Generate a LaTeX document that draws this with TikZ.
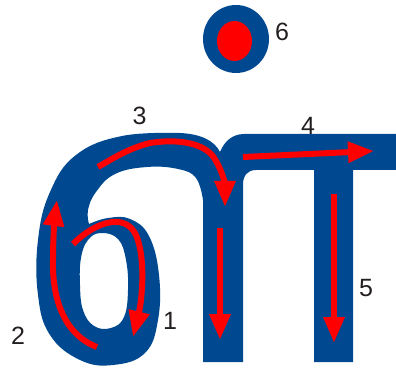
\documentclass[tikz,border=0pt]{standalone}
\usepackage{fontspec}
\setmainfont{Liberation Sans}
\usetikzlibrary{arrows.meta}
\definecolor{glyphblue}{RGB}{0,73,144}
\definecolor{lblgray}{RGB}{35,31,32}
\begin{document}
\begin{tikzpicture}[x=1pt,y=-1pt,
  stroke/.style={draw=red,line width=6pt,-{Triangle[length=26pt,width=20pt]}},
  lbl/.style={inner sep=0pt,text=lblgray,font=\fontsize{25}{25}\selectfont}]
\useasboundingbox (0,0) rectangle (396,371);
% glyph
\fill[glyphblue,even odd rule]
 (396,134) -- (244,134) .. controls (232,134) and (224,142) .. (220,152)
 .. controls (214,140) and (200,134) .. (180,133)
 -- plot[smooth,tension=0.7] coordinates {(180,133) (122,136) (76,155) (50,192) (38,240) (38,295) (50,335) (80,360) (113,365) (145,353) (158,320) (159,275) (149,236) (130,219) (108,218) (89,224)}
 -- plot[smooth,tension=0.7] coordinates {(89,224) (88,210) (96,192) (115,174) (147,167) (178,169) (196,178) (203,200)}
 -- (203,362) -- (243,362) -- (243,185) .. controls (243,176) and (247,170) .. (256,170)
 -- (314,170) -- (314,362) -- (353,362) -- (353,170) -- (396,170) -- cycle
 plot[smooth cycle,tension=0.7] coordinates {(101,233) (118,239) (126,260) (128,290) (124,317) (111,328) (94,326) (83,310) (80,285) (81,258) (88,240)};
% dot
\fill[glyphblue] (236,39) ellipse [x radius=33pt, y radius=34pt];
\fill[red] (234.5,41) ellipse [x radius=17.5pt, y radius=20pt];
% strokes
\draw[stroke] (73,244) .. controls (95,222) and (125,212) .. (136,235) .. controls (146,258) and (142,300) .. (133,337);
\draw[stroke] (97,347) .. controls (65,335) and (52,300) .. (53,260) .. controls (53,235) and (55,215) .. (57,200);
\draw[stroke] (98,167) .. controls (115,157) and (130,148) .. (150,143) .. controls (175,139) and (200,142) .. (212,155) .. controls (222,168) and (225,185) .. (225,207);
\draw[stroke] (220,228) -- (220,340);
\draw[stroke] (243,157) -- (374,151);
\draw[stroke] (334,194) -- (334,343);
% labels
\node[lbl] (l1) at (170,321) {1};
\node[lbl] (l2) at (18,336) {2};
\node[lbl] (l3) at (139.5,116) {3};
\node[lbl] (l4) at (308,126) {4};
\node[lbl] (l5) at (366,288) {5};
\node[lbl] (l6) at (282,32) {6};
\end{tikzpicture}
\end{document}
